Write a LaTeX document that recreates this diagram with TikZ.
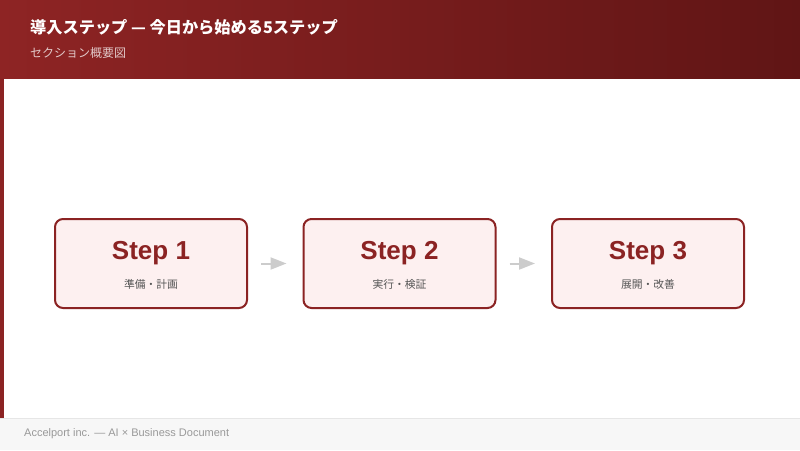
\documentclass[tikz,border=0pt]{standalone}
\usepackage{fontspec}
\setmainfont{Liberation Sans}
\newfontfamily\jp{Noto Sans CJK JP}
\usetikzlibrary{arrows.meta}
\definecolor{hdrL}{HTML}{8E2424}
\definecolor{hdrR}{HTML}{601515}
\definecolor{accent}{HTML}{8B2323}
\definecolor{boxfill}{HTML}{FDF0F0}
\definecolor{subgray}{HTML}{555555}
\definecolor{arrgray}{HTML}{CCCCCC}
\definecolor{footbg}{HTML}{F7F7F7}
\definecolor{footline}{HTML}{E6E6E6}
\definecolor{foottext}{HTML}{999999}
\tikzset{
  stepbox/.style={draw=accent, line width=2pt, fill=boxfill, rounded corners=8pt,
    minimum width=192pt, minimum height=89pt, inner sep=0pt},
  steptitle/.style={text=accent, font=\fontsize{26}{30}\selectfont\bfseries, inner sep=0pt},
  stepsub/.style={text=subgray, font=\jp\fontsize{10.8}{12}\selectfont, inner sep=0pt},
  flowarrow/.style={draw=arrgray, line width=2pt, -{Triangle[length=16pt,width=12pt]}},
}
\begin{document}
\begin{tikzpicture}[x=1pt,y=-1pt]
\useasboundingbox (0,0) rectangle (800,450);
\fill[white] (0,0) rectangle (800,450);
% header
\shade[left color=hdrL, right color=hdrR] (0,0) rectangle (800,78);
\node[anchor=west, text=white, inner sep=0pt, font=\jp\bfseries\fontsize{16.2}{19}\selectfont] (title) at (30,27) {導入ステップ — 今日から始める5ステップ};
\node[anchor=west, text=white, text opacity=0.75, inner sep=0pt, font=\jp\fontsize{12}{14}\selectfont] (subtitle) at (30,53) {セクション概要図};
% left bar
\fill[accent] (0,78) rectangle (4,418);
% footer
\fill[footbg] (0,418) rectangle (800,450);
\draw[footline, line width=1pt] (0,418.5) -- (800,418.5);
\node[anchor=west, text=foottext, inner sep=0pt, font=\fontsize{11}{13}\selectfont] (foot) at (24,434) {Accelport inc. — AI × Business Document};
% steps
\node[stepbox] (s1) at (151,263.5) {};
\node[stepbox] (s2) at (399.5,263.5) {};
\node[stepbox] (s3) at (648,263.5) {};
\node[steptitle] (t1) at (151,253) {Step 1};
\node[steptitle] (t2) at (399.5,253) {Step 2};
\node[steptitle] (t3) at (648,253) {Step 3};
\node[stepsub] (u1) at (151,284) {準備・計画};
\node[stepsub] (u2) at (399.5,284) {実行・検証};
\node[stepsub] (u3) at (648,284) {展開・改善};
\draw[flowarrow] ([xshift=13pt]s1.east) -- ([xshift=-16pt]s2.west);
\draw[flowarrow] ([xshift=13pt]s2.east) -- ([xshift=-16pt]s3.west);
\end{tikzpicture}
\end{document}
